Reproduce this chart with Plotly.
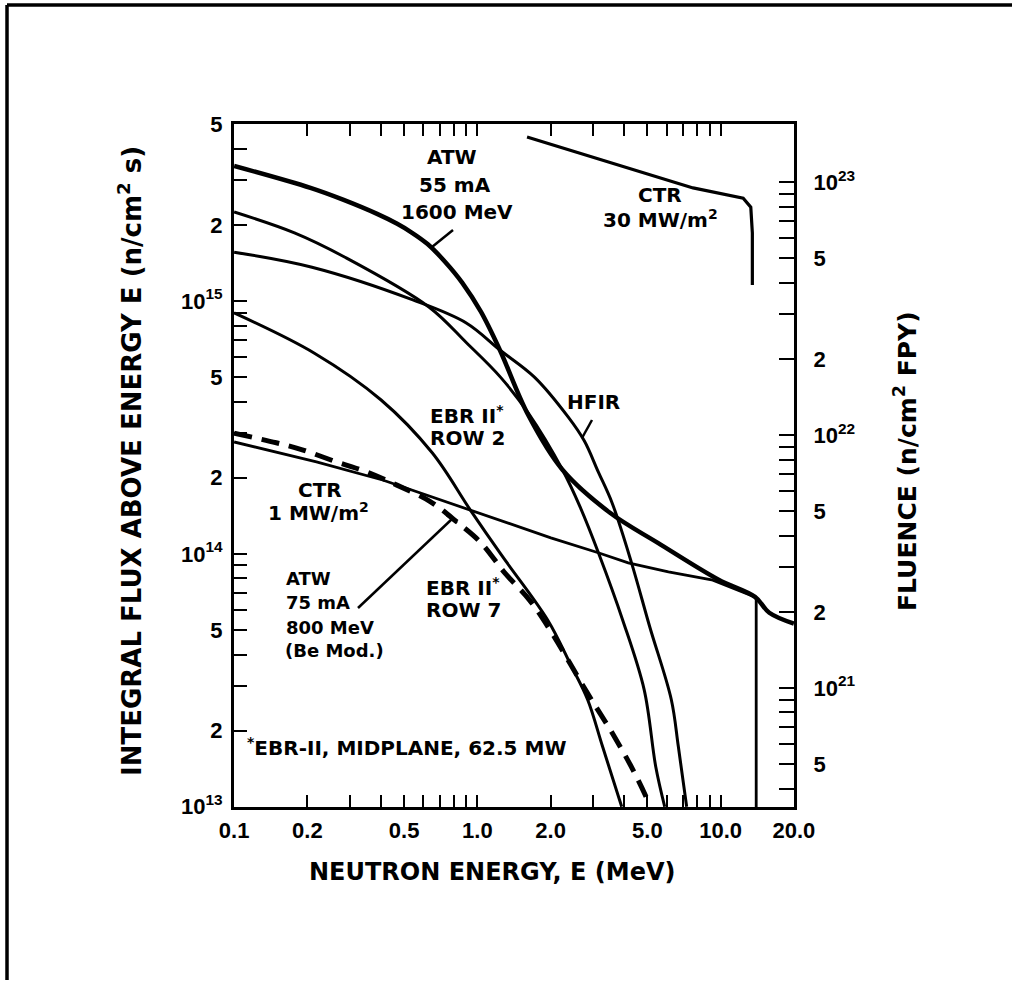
import math
import plotly.graph_objects as go

# ---------------- data ----------------
atw55_E = [0.1, 0.206, 0.282, 0.387, 0.468, 0.535, 0.624, 0.736, 0.867, 1.035, 1.237, 1.618, 2.237, 3.52, 5.52, 9.81, 13.84, 15.85, 20.0]
atw55_F = [3.42e15, 2.80e15, 2.51e15, 2.21e15, 2.02e15, 1.87e15, 1.68e15, 1.43e15, 1.18e15, 9.05e14, 6.4e14, 3.54e14, 2.15e14, 1.45e14, 1.105e14, 7.9e13, 6.76e13, 5.85e13, 5.3e13]

ebr2_E = [0.1, 0.177, 0.2855, 0.632, 0.904, 1.244, 1.617, 2.237, 2.646, 3.17, 3.955, 4.85, 5.41, 5.89]
ebr2_F = [2.25e15, 1.86e15, 1.49e15, 9.47e14, 6.82e14, 5.0e14, 3.61e14, 2.15e14, 1.53e14, 9.9e13, 5.48e13, 2.9e13, 1.44e13, 1.0e13]

hfir_E = [0.1, 0.209, 0.543, 0.900, 1.237, 1.716, 2.36, 2.75, 3.14, 3.58, 4.29, 5.11, 6.27, 6.70, 7.25]
hfir_F = [1.56e15, 1.36e15, 1.01e15, 8.19e14, 6.4e14, 5.0e14, 3.48e14, 2.80e14, 2.11e14, 1.59e14, 9.3e13, 5.15e13, 2.65e13, 1.73e13, 1.0e13]

ebr7_E = [0.1, 0.213, 0.402, 0.652, 0.936, 1.255, 1.945, 2.42, 2.84, 3.27, 3.92]
ebr7_F = [8.97e14, 6.23e14, 4.06e14, 2.51e14, 1.49e14, 9.9e13, 5.48e13, 3.64e13, 2.65e13, 1.73e13, 1.0e13]

atw75_E = [0.1, 0.149, 0.1906, 0.2634, 0.3504, 0.467, 0.640, 0.830, 1.036, 1.296, 1.635, 1.987, 2.83, 3.58, 4.36, 5.11]
atw75_F = [3.0e14, 2.75e14, 2.58e14, 2.31e14, 2.11e14, 1.87e14, 1.61e14, 1.33e14, 1.105e14, 8.41e13, 6.58e13, 5.01e13, 2.82e13, 1.96e13, 1.40e13, 1.02e13]

ctr1_E = [0.1, 0.218, 0.408, 0.936, 2.005, 3.14, 4.17, 6.10, 9.18, 13.84, 14.0, 14.0]
ctr1_F = [2.77e14, 2.31e14, 1.96e14, 1.49e14, 1.157e14, 1.01e14, 9.21e13, 8.49e13, 7.9e13, 6.76e13, 6.6e13, 1e12]

ctr30_E = [1.60, 2.97, 5.63, 7.70, 12.38, 13.3, 13.5, 13.5]
ctr30_F = [4.45e15, 3.71e15, 3.09e15, 2.80e15, 2.55e15, 2.35e15, 1.86e15, 1.157e15]

FPY_SECONDS = 3.39e7   # right-axis scale factor (flux -> fluence per full power year)

x_major_vals = [0.1, 0.2, 0.5, 1, 2, 5, 10, 20]
x_major_text = ["0.1", "0.2", "0.5", "1.0", "2.0", "5.0", "10.0", "20.0"]
x_minor_vals = [0.3, 0.4, 0.6, 0.7, 0.8, 0.9, 3, 4, 6, 7, 8, 9]

# ---------------- layout constants ----------------
PAGE = 0                              # body margin removed by post_script
W, H = 1012, 980
X0, X1, Y0, Y1 = 234, 794, 124, 807   # plot area in page px


def paper(x, y):
    return (x - X0) / (X1 - X0), (Y1 - y) / (Y1 - Y0)


def log_ticks(lo, hi):
    vals, txt, minor = [], [], []
    for n in range(int(math.floor(lo)), int(math.ceil(hi)) + 1):
        for k in range(1, 10):
            v = float(k) * 10.0 ** n
            if lo - 1e-6 <= math.log10(v) <= hi + 1e-6:
                if k == 1:
                    vals.append(v)
                    txt.append("10<sup>%d</sup>" % n)
                elif k in (2, 5):
                    vals.append(v)
                    txt.append(str(k))
                else:
                    minor.append(v)
    return vals, txt, minor


yl_lo, yl_hi = 12.999, math.log10(5e15) + 0.001
yr_lo, yr_hi = yl_lo + math.log10(FPY_SECONDS), yl_hi + math.log10(FPY_SECONDS)
yl_vals, yl_text, yl_minor = log_ticks(yl_lo, yl_hi)
yr_vals, yr_text, yr_minor = log_ticks(yr_lo, yr_hi)

fig = go.Figure()

solid = dict(color="black", width=3, shape="spline", smoothing=1.0)


def add(xs, ys, line, **kw):
    fig.add_trace(go.Scatter(x=xs, y=ys, mode="lines", line=line,
                             showlegend=False, hoverinfo="skip", **kw))


add(hfir_E, hfir_F, solid)
add(ebr2_E, ebr2_F, solid)
add(ebr7_E, ebr7_F, solid)
add(ctr1_E, ctr1_F, dict(color="black", width=2.8))
add(ctr30_E, ctr30_F, dict(color="black", width=3.2))
add(atw75_E, atw75_F, dict(color="black", width=5, dash="18px,10px", shape="spline", smoothing=1.0))
add(atw55_E, atw55_F, dict(color="black", width=4.5, shape="spline", smoothing=1.0))
# same CTR 30 curve expressed as fluence, on the right axis (invisible; it only activates that axis)
add(ctr30_E, [f * FPY_SECONDS for f in ctr30_F], dict(color="rgba(0,0,0,0)", width=0), yaxis="y2")

tickfont = dict(family="Liberation Sans", size=22, color="black", weight="bold")


def minor(vals, ln):
    return dict(tickmode="array", tickvals=vals, ticks="inside", ticklen=ln,
                tickwidth=2, tickcolor="black", showgrid=False)


fig.update_layout(
    width=W, height=H,
    margin=dict(l=X0 - PAGE, r=PAGE + W - X1, t=Y0 - PAGE, b=PAGE + H - Y1),
    paper_bgcolor="white", plot_bgcolor="white",
    showlegend=False,
    xaxis=dict(type="log", range=[-1.0005, math.log10(20) + 0.0005],
               tickmode="array", tickvals=x_major_vals, ticktext=x_major_text,
               ticks="inside", ticklen=12, tickwidth=2, tickcolor="black",
               minor=minor(x_minor_vals, 12),
               showline=True, linewidth=3, linecolor="black", mirror="allticks",
               showgrid=False, zeroline=False, tickfont=tickfont,
               ticklabelstandoff=2),
    yaxis=dict(type="log", range=[yl_lo, yl_hi],
               tickmode="array", tickvals=yl_vals, ticktext=yl_text,
               ticks="inside", ticklen=13, tickwidth=2, tickcolor="black",
               minor=minor(yl_minor, 13),
               showline=True, linewidth=3, linecolor="black", mirror=False,
               showgrid=False, zeroline=False, tickfont=tickfont,
               ticklabelstandoff=4),
    yaxis2=dict(type="log", range=[yr_lo, yr_hi], overlaying="y", side="right",
                tickmode="array", tickvals=yr_vals, ticktext=yr_text,
                ticks="inside", ticklen=15, tickwidth=2, tickcolor="black",
                minor=minor(yr_minor, 15),
                showline=True, linewidth=3, linecolor="black",
                showgrid=False, zeroline=False, tickfont=tickfont,
                ticklabelstandoff=12),
)

lab = dict(family="DejaVu Sans", size=20, color="black", weight="bold")
small = dict(family="DejaVu Sans", size=18, color="black", weight="bold")
title_font = dict(family="DejaVu Sans", size=25, color="black", weight="bold")

annots = []


def text(t, x, y, font=lab, xanchor="center", angle=0):
    px_, py_ = paper(x, y)
    annots.append(dict(text=t, x=px_, y=py_, xref="paper", yref="paper",
                       xanchor=xanchor, yanchor="middle", showarrow=False,
                       font=font, textangle=angle))


text("ATW", 452, 157)
text("55 mA", 455, 185)
text("1600 MeV", 457, 212)
text("CTR", 660, 195)
text("30 MW/m<sup>2</sup>", 660, 219)
text("HFIR", 593, 402)
text("EBR II<sup>*</sup>", 467, 415)
text("ROW 2", 467, 438)
text("CTR", 320, 490)
text("1 MW/m<sup>2</sup>", 318, 512)
text("ATW", 284, 578, small, "left")
text("75 mA", 284, 602, small, "left")
text("800 MeV", 284, 627, small, "left")
text("(Be Mod.)", 283, 650, small, "left")
text("EBR II<sup>*</sup>", 463, 587)
text("ROW 7", 463, 610)
text("<sup>*</sup>EBR-II, MIDPLANE, 62.5 MW", 245, 747, lab, "left")
text("NEUTRON ENERGY, E (MeV)", 492, 872, dict(title_font, size=24))
text("INTEGRAL FLUX ABOVE ENERGY E (n/cm<sup>2</sup> s)", 130, 461, dict(title_font, size=26), angle=-90)
text("FLUENCE (n/cm<sup>2</sup> FPY)", 905, 461, title_font, angle=-90)
fig.update_layout(annotations=annots)

shapes = []


def seg(xa, ya, xb, yb, w=2.5):
    pa, pb = paper(xa, ya), paper(xb, yb)
    shapes.append(dict(type="line", xref="paper", yref="paper",
                       x0=pa[0], y0=pa[1], x1=pb[0], y1=pb[1],
                       line=dict(color="black", width=w)))


seg(453, 230, 432, 247)          # ATW 55 mA pointer
seg(592, 420, 582, 438)          # HFIR pointer
seg(358, 608, 452, 519)          # ATW 75 mA pointer
seg(447, 515, 457, 523, 3)       # small bar at its end
seg(7, 5, W, 5, 3.5)             # page frame top
seg(7, 5, 7, H, 3.5)             # page frame left
fig.update_layout(shapes=shapes)

fig.write_html("out.html", config={"displayModeBar": False},
               post_script="document.body.style.margin='0';")
